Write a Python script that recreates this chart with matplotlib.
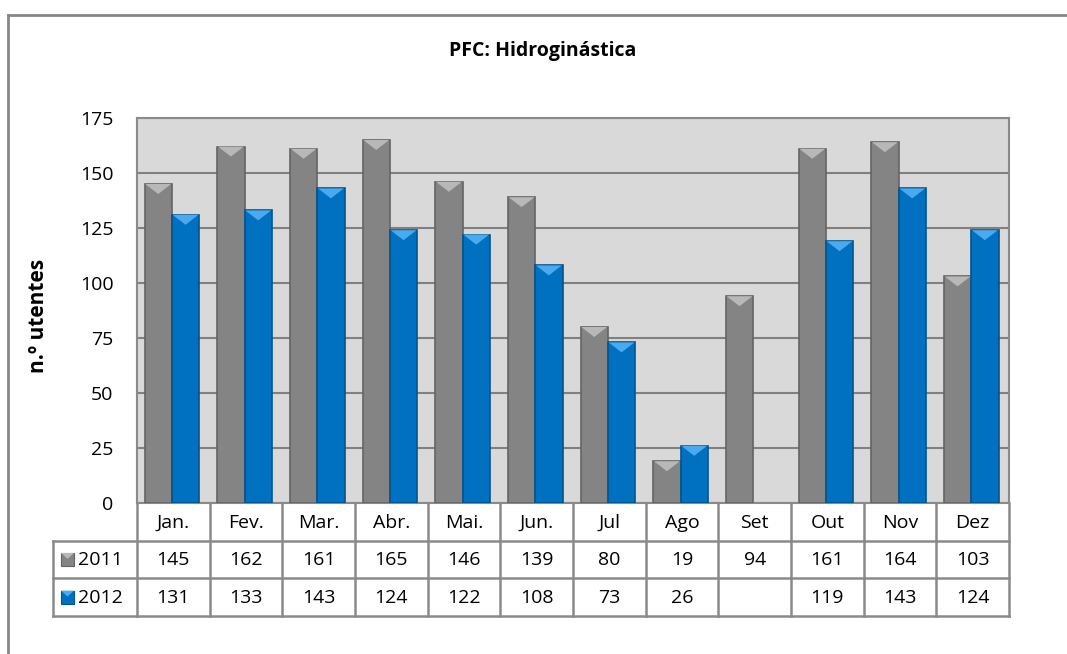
import matplotlib
matplotlib.use("Agg")
import matplotlib.pyplot as plt
import numpy as np
from matplotlib.patches import Polygon, Rectangle
from matplotlib.lines import Line2D

# ---------------- data ----------------
months = ["Jan.", "Fev.", "Mar.", "Abr.", "Mai.", "Jun.", "Jul", "Ago", "Set", "Out", "Nov", "Dez"]
series_names = ["2011", "2012"]
v2011 = [145, 162, 161, 165, 146, 139, 80, 19, 94, 161, 164, 103]
v2012 = [131, 133, 143, 124, 122, 108, 73, 26, None, 119, 143, 124]
yticks = [0, 25, 50, 75, 100, 125, 150, 175]
title = "PFC: Hidroginástica"
ylabel = "n.º utentes"

# ---------------- styles ----------------
W, H = 1067, 654
plt.rcParams['font.family'] = ['Open Sans', 'DejaVu Sans']
fig = plt.figure(figsize=(W / 100, H / 100), dpi=100)
fig.patch.set_facecolor('white')

def fx(px):
    return px / W

def fy(py):
    return 1 - py / H

colors = {"2011": ("#848484", "#646464", "#b8b8b8"),
          "2012": ("#0070C0", "#00558f", "#4aaaf0")}
line_col = "#8a8a8a"

PL, PR, PT, PB = 137, 1009, 118, 503
ax = fig.add_axes([fx(PL), fy(PB), fx(PR) - fx(PL), fy(PT) - fy(PB)])
ax.set_facecolor('#D9D9D9')
ax.set_xlim(-0.5, len(months) - 0.5)
ax.set_ylim(0, 175)
ax.set_yticks(yticks)
ax.set_xticks([])
ax.tick_params(axis='y', length=0, pad=17, labelsize=14)
ax.yaxis.grid(True, color='#808080', lw=1.5)
ax.set_axisbelow(True)
for s in ax.spines.values():
    s.set_color(line_col)
    s.set_linewidth(1.5)

bw = 0.376
x = np.arange(len(months))
px_per_unit_y = (PB - PT) / 175.0
tri_h = 10 / px_per_unit_y

def bevel_bars(xpos, vals, name):
    face, edge, light = colors[name]
    pts = [(xi, vi) for xi, vi in zip(xpos, vals) if vi is not None]
    xs = [p[0] for p in pts]
    vs = [p[1] for p in pts]
    ax.bar(xs, vs, width=bw, color=face, edgecolor=edge, lw=1.2, zorder=3)
    for xi, vi in pts:
        h = min(tri_h, vi * 0.5)
        poly = Polygon([[xi - bw / 2 + 0.01, vi], [xi + bw / 2 - 0.01, vi], [xi, vi - h]],
                       closed=True, facecolor=light, edgecolor='none', zorder=4)
        ax.add_patch(poly)

bevel_bars(x - bw / 2 - 0.02, v2011, "2011")
bevel_bars(x + bw / 2 - 0.02, v2012, "2012")

# ---------------- data table ----------------
TL = 53
TB = 616
col_w = (PR - PL) / len(months)
xl = -0.5 - (PL - TL) / col_w
tax = fig.add_axes([fx(TL), fy(TB), fx(PR) - fx(TL), fy(PB) - fy(TB)])
tax.set_xlim(xl, len(months) - 0.5)
tax.set_ylim(3, 0)
tax.axis('off')
lw = 1.8
for yy in [1, 2, 3]:
    tax.add_line(Line2D([xl, len(months) - 0.5], [yy, yy], color=line_col, lw=lw, clip_on=False))
for k in range(len(months) + 1):
    tax.add_line(Line2D([k - 0.5, k - 0.5], [0, 3], color=line_col, lw=lw, clip_on=False))
tax.add_line(Line2D([xl, xl], [1, 3], color=line_col, lw=lw, clip_on=False))

for i, m in enumerate(months):
    tax.text(i, 0.52, m, ha='center', va='center', fontsize=14)
    a = v2011[i]
    b = v2012[i]
    if a is not None:
        tax.text(i, 1.52, str(a), ha='center', va='center', fontsize=14)
    if b is not None:
        tax.text(i, 2.52, str(b), ha='center', va='center', fontsize=14)

row_h_px = (TB - PB) / 3
kw = 13 / col_w
kh = 13 / row_h_px
for r, name in enumerate(series_names):
    face, edge, light = colors[name]
    kx = xl + (61 - TL) / col_w
    ky = 1 + r + 0.5 - kh / 2
    tax.add_patch(Rectangle((kx, ky), kw, kh, facecolor=face, edgecolor=edge, lw=0.8, clip_on=False))
    tax.add_patch(Polygon([[kx, ky], [kx + kw, ky], [kx + kw / 2, ky + kh * 0.45]],
                          closed=True, facecolor=light, edgecolor='none', clip_on=False))
    tax.text(xl + (78 - TL) / col_w, 1 + r + 0.52, name, ha='left', va='center', fontsize=14)

# ---------------- titles & frame ----------------
fig.text(fx(543), fy(51), title, ha='center', va='center', fontsize=14, fontweight='bold')
fig.text(fx(39), fy(316), ylabel, ha='center', va='center', rotation=90, fontsize=15, fontweight='bold')

fig.add_artist(Line2D([fx(8), 1.01], [fy(15), fy(15)], color='#878787', lw=2, transform=fig.transFigure))
fig.add_artist(Line2D([fx(8), fx(8)], [fy(15), -0.01], color='#878787', lw=2, transform=fig.transFigure))

fig.savefig("out.png", dpi=100, facecolor='white')
